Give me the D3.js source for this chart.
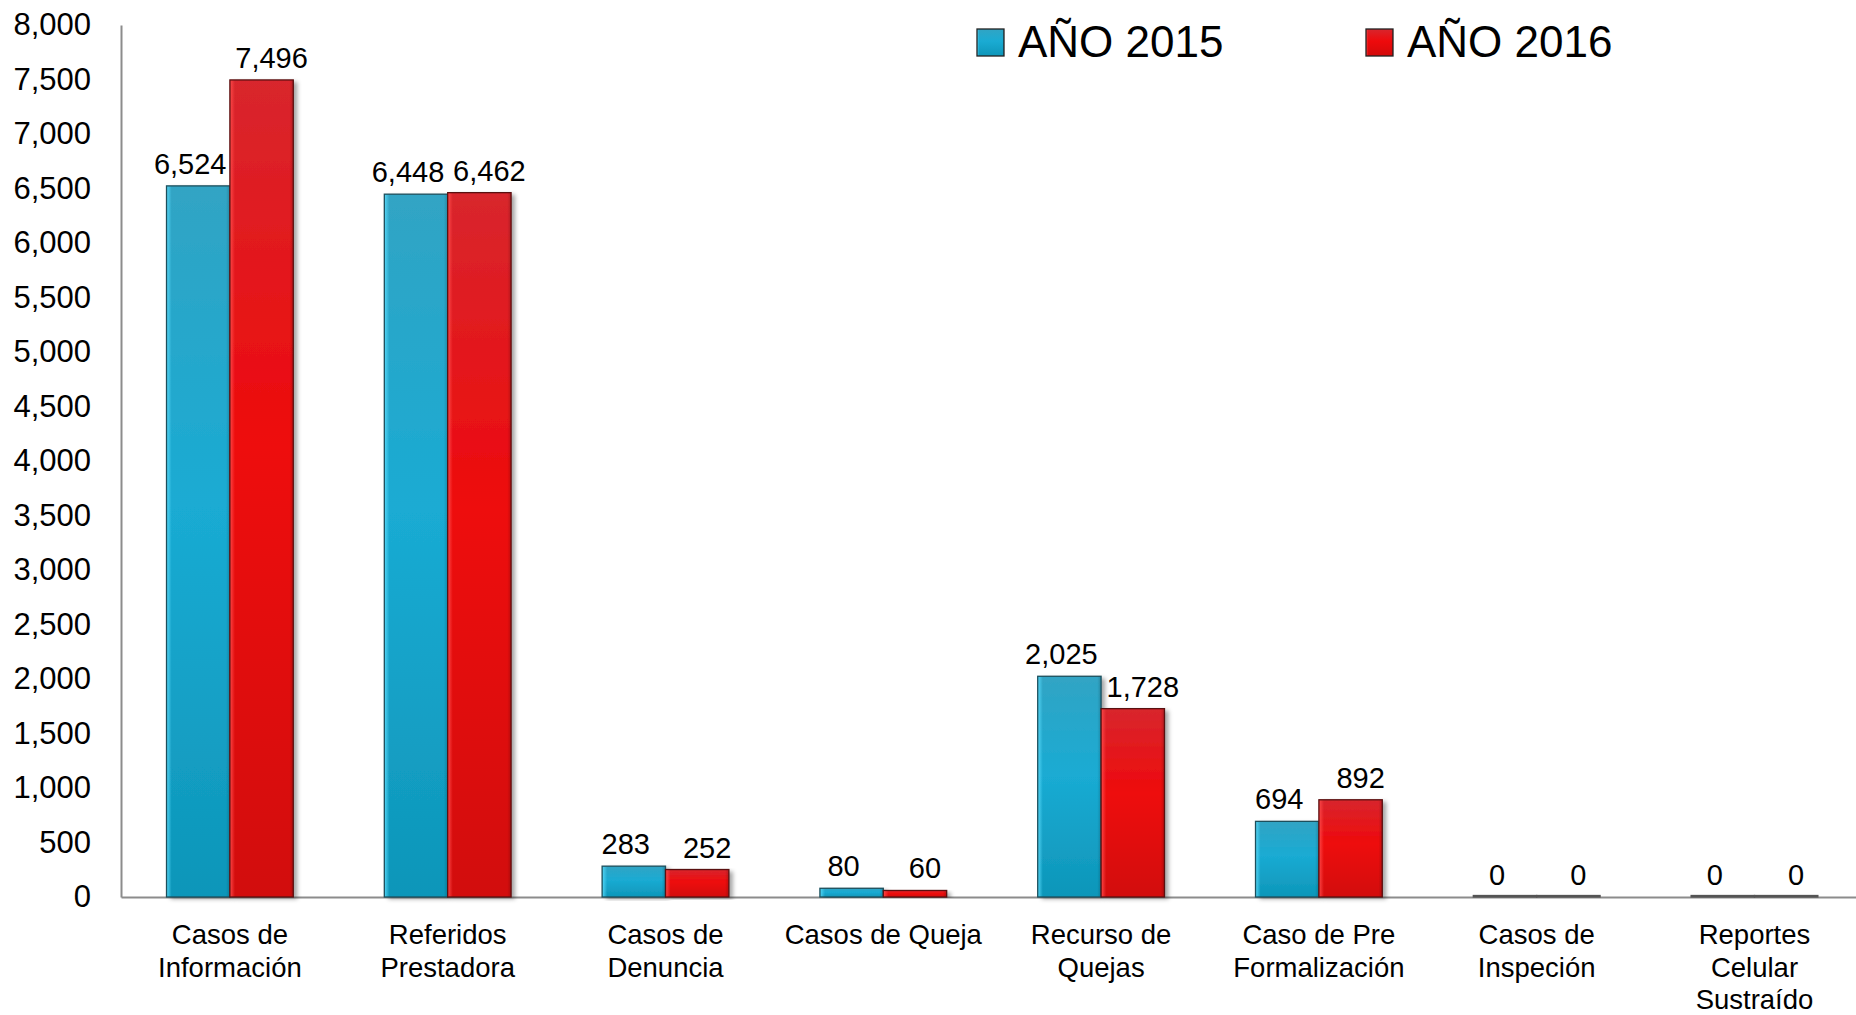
<!DOCTYPE html>
<html>
<head>
<meta charset="utf-8">
<script src="https://cdn.jsdelivr.net/npm/d3@7"></script>
<style>
  html, body { margin: 0; padding: 0; background: #ffffff; }
  svg { display: block; }
  text { font-family: "Liberation Sans", Arial, sans-serif; fill: #000; }
</style>
</head>
<body>
<svg id="chart" width="1856" height="1015"></svg>
<script>
// ---- data ----
const categories = [
  "Casos de\nInformación",
  "Referidos\nPrestadora",
  "Casos de\nDenuncia",
  "Casos de Queja",
  "Recurso de\nQuejas",
  "Caso de Pre\nFormalización",
  "Casos de\nInspeción",
  "Reportes\nCelular\nSustraído"
];
const seriesNames = ["AÑO 2015", "AÑO 2016"];
const values2015 = [6524, 6448, 283, 80, 2025, 694, 0, 0];
const values2016 = [7496, 6462, 252, 60, 1728, 892, 0, 0];
const yTicks = [0, 500, 1000, 1500, 2000, 2500, 3000, 3500, 4000, 4500, 5000, 5500, 6000, 6500, 7000, 7500, 8000];

// ---- layout ----
const W = 1856, H = 1015;
const axisX = 121, baseY = 897, topY = 25;
const step = 217.8;
const labelShift = [-8, 10];

const svg = d3.select("#chart");
const defs = svg.append("defs");

const palettes = [
  { id: "b", top: "#31a4c4", mid: "#1aabd3", bot: "#0e96b9", hi: "#56d8f8", stroke: "#1d4f5c" },
  { id: "r", top: "#d8262d", mid: "#ee0a0c", bot: "#d20a0a", hi: "#ff4a4a", stroke: "#5a1010" }
];
palettes.forEach(p => {
  const g = defs.append("linearGradient").attr("id", "v" + p.id)
    .attr("x1", 0).attr("y1", 0).attr("x2", 0).attr("y2", 1);
  g.append("stop").attr("offset", "0%").attr("stop-color", p.top);
  g.append("stop").attr("offset", "45%").attr("stop-color", p.mid);
  g.append("stop").attr("offset", "100%").attr("stop-color", p.bot);
  const h = defs.append("linearGradient").attr("id", "h" + p.id)
    .attr("x1", 0).attr("y1", 0).attr("x2", 1).attr("y2", 0);
  h.append("stop").attr("offset", "0%").attr("stop-color", p.hi).attr("stop-opacity", 0.95);
  h.append("stop").attr("offset", "8%").attr("stop-color", p.hi).attr("stop-opacity", 0.0);
  h.append("stop").attr("offset", "94%").attr("stop-color", "#000").attr("stop-opacity", 0.0);
  h.append("stop").attr("offset", "100%").attr("stop-color", "#000").attr("stop-opacity", 0.18);
});
const f = defs.append("filter").attr("id", "shadow")
  .attr("x", "-20%").attr("y", "-5%").attr("width", "150%").attr("height", "115%");
f.append("feDropShadow").attr("dx", 4).attr("dy", 2).attr("stdDeviation", 2.2)
  .attr("flood-color", "#000").attr("flood-opacity", 0.35);

const x0 = d3.scaleBand().domain(categories).range([axisX, axisX + step * categories.length]).padding(0);
const x1 = d3.scaleBand().domain(seriesNames).range([0, x0.bandwidth() * 0.582]).padding(0);
const offset = (x0.bandwidth() - x1.range()[1]) / 2;
const y = d3.scaleLinear().domain([0, 8000]).range([baseY, topY]);

// y axis
const yAxis = d3.axisLeft(y).tickValues(yTicks).tickFormat(d3.format(",")).tickSize(0).tickPadding(30);
const ya = svg.append("g").attr("transform", `translate(${axisX},0)`).call(yAxis);
ya.select(".domain").attr("stroke", "#8c8c8c").attr("stroke-width", 2);
ya.selectAll("text").style("font-size", "31px").attr("fill", "#000")
  .style("font-family", '"Liberation Sans", Arial, sans-serif');

// x axis baseline
const xAxis = d3.axisBottom(x0).tickSize(0).tickFormat("");
const xa = svg.append("g").attr("transform", `translate(0,${baseY})`).call(xAxis);
xa.select(".domain").attr("stroke", "#8c8c8c").attr("stroke-width", 2);

// category labels
const catG = svg.append("g");
categories.forEach(c => {
  const t = catG.append("text")
    .attr("text-anchor", "middle")
    .style("font-size", "27.5px");
  c.split("\n").forEach((line, i) => {
    t.append("tspan")
      .attr("x", x0(c) + x0.bandwidth() / 2)
      .attr("y", 944 + i * 32.5)
      .text(line);
  });
});

// bars
const series = [values2015, values2016];
series.forEach((vals, si) => {
  const p = palettes[si];
  const g = svg.append("g");
  const bars = g.selectAll("g.bar").data(vals.map((v, i) => ({ v, c: categories[i] })))
    .enter().append("g").attr("class", "bar");
  const bx = d => x0(d.c) + offset + x1(seriesNames[si]);
  const bh = d => Math.max(baseY - y(d.v), 1.5);
  bars.append("rect")
    .attr("x", bx).attr("y", d => baseY - bh(d))
    .attr("width", x1.bandwidth()).attr("height", bh)
    .attr("fill", `url(#v${p.id})`)
    .attr("filter", d => d.v > 0 ? "url(#shadow)" : null);
  bars.append("rect")
    .attr("x", bx).attr("y", d => baseY - bh(d))
    .attr("width", x1.bandwidth()).attr("height", bh)
    .attr("fill", d => d.v > 0 ? `url(#h${p.id})` : "#555")
    .attr("stroke", d => d.v > 0 ? p.stroke : "#555")
    .attr("stroke-width", 1.3);
  bars.append("text")
    .attr("x", d => bx(d) + x1.bandwidth() / 2 + labelShift[si])
    .attr("y", d => y(d.v) - 12)
    .attr("text-anchor", "middle")
    .style("font-size", "29px")
    .text(d => d3.format(",")(d.v));
});

// legend
const legendX = [977, 1366];
seriesNames.forEach((name, i) => {
  const p = palettes[i];
  const lg = svg.append("g").attr("transform", `translate(${legendX[i]},29)`);
  lg.append("rect").attr("width", 27).attr("height", 27)
    .attr("fill", `url(#v${p.id})`);
  lg.append("rect").attr("width", 27).attr("height", 27)
    .attr("fill", `url(#h${p.id})`).attr("stroke", "#222").attr("stroke-width", 1.3);
  lg.append("text").attr("x", 41).attr("y", 28)
    .style("font-size", "44px")
    .text(name);
});
</script>
</body>
</html>
